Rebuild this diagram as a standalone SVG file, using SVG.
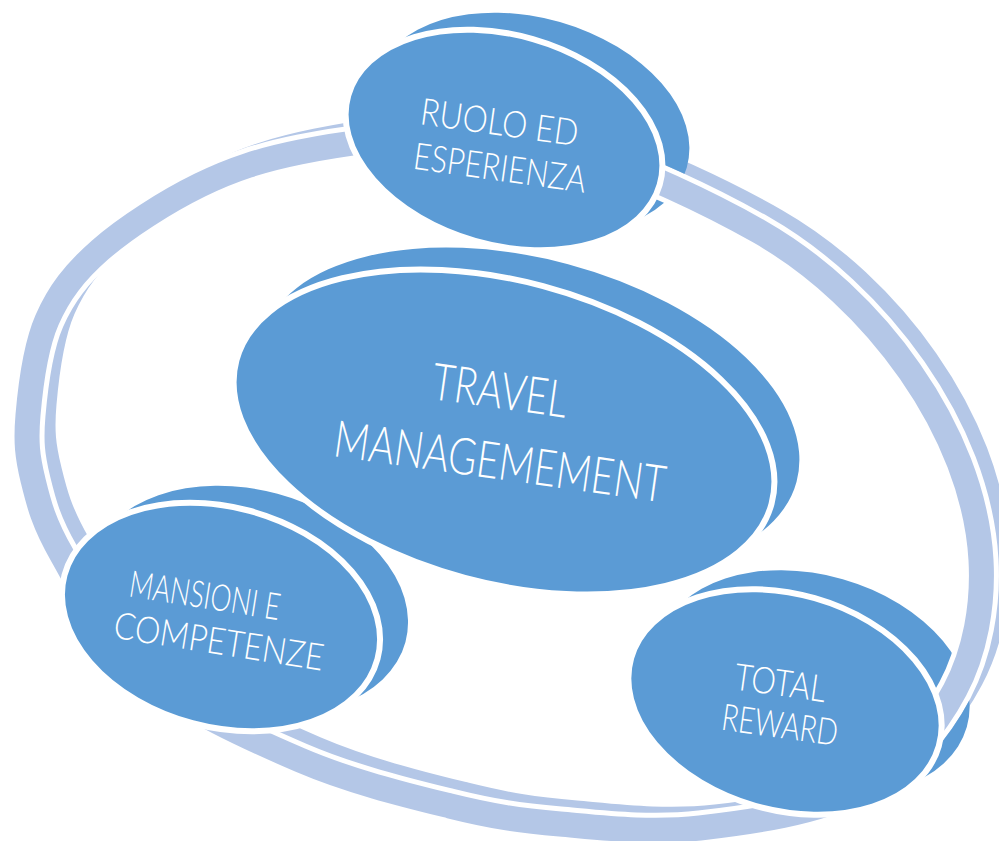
<svg xmlns="http://www.w3.org/2000/svg" xmlns:xlink="http://www.w3.org/1999/xlink" width="999" height="841" viewBox="0 0 999 841">
<style>
.ringband{fill:none;stroke:#B4C7E7;stroke-width:25}
.ringgap{fill:none;stroke:#FFFFFF;stroke-width:35}
.back{fill:#5B9BD5}
.front{fill:#5B9BD5;stroke:#FFFFFF;stroke-width:6}
.lbl{font-family:Lato,"Open Sans","Liberation Sans",sans-serif;font-weight:300;fill:#FFFFFF;text-anchor:middle}
.s{font-size:37px}
.b{font-size:51px}
</style>
<defs>
<path id="ringPath" d="M28,415 C30.3,388.3 35,347.5 47,320 C59,292.5 74.5,272.5 100,250 C125.5,227.5 166.7,201.3 200,185 C233.3,168.7 261.7,159.8 300,152 C338.3,144.2 383.3,138 430,138 C476.7,138 525,138 580,152 C635,167.7 710.8,204 760,232 C872.8,296.5 973.8,430.3 981,560 C983.5,605 975.2,651.7 955,690 C934.8,728.3 902.5,767 860,790 C817.5,813 750,822.3 700,828 C650,833.7 601.7,827.7 560,824 C518.3,820.3 493.3,816.7 450,806 C406.7,795.3 350.8,781.8 300,760 C249.2,738.2 184.7,709.2 145,675 C105.3,640.8 80.7,587.5 62,555 C43.3,522.5 38.7,503.3 33,480 C27.3,456.7 25.7,441.7 28,415 Z"/>
<mask id="cut" maskUnits="userSpaceOnUse" x="0" y="0" width="999" height="841">
<rect x="0" y="0" width="999" height="841" fill="#FFFFFF"/>
<use xlink:href="#ringPath" fill="none" stroke="#000000" stroke-width="35"/>
</mask>
</defs>
<rect x="0" y="0" width="999" height="841" fill="#FFFFFF"/>
<g id="connectors">
<use xlink:href="#ringPath" class="ringband" transform="translate(16,-11)"/>
<use xlink:href="#ringPath" class="ringgap"/>
<use xlink:href="#ringPath" class="ringband"/>
</g>
<g id="node-mansioni">
<g mask="url(#cut)"><ellipse class="back" cx="249" cy="600" rx="162" ry="110" transform="rotate(15 249 600)"/></g>
<ellipse class="front" cx="221" cy="617" rx="162" ry="110" transform="rotate(15 221 617)"/>
<text class="lbl s" x="205" y="608.3" transform="rotate(9 205 595)" textLength="152" lengthAdjust="spacingAndGlyphs">MANSIONI E</text>
<text class="lbl s" x="219" y="654.3" transform="rotate(9 219 641)" textLength="212" lengthAdjust="spacingAndGlyphs">COMPETENZE</text>
</g>
<g id="node-total">
<g mask="url(#cut)"><ellipse class="back" cx="813" cy="683" rx="160" ry="108" transform="rotate(16 813 683)"/></g>
<ellipse class="front" cx="785" cy="702" rx="160" ry="108" transform="rotate(16 785 702)"/>
<text class="lbl s" x="780.5" y="695.8" transform="rotate(8 780.5 682.5)" textLength="92" lengthAdjust="spacingAndGlyphs">TOTAL</text>
<text class="lbl s" x="780" y="737.8" transform="rotate(8 780 724.5)" textLength="117" lengthAdjust="spacingAndGlyphs">REWARD</text>
</g>
<g id="node-travel">
<g mask="url(#cut)"><ellipse class="back" cx="529" cy="410" rx="277" ry="151" transform="rotate(15 529 410)"/></g>
<ellipse class="front" cx="504" cy="432" rx="277" ry="151" transform="rotate(15 504 432)"/>
<text class="lbl b" x="500" y="408.4" transform="rotate(8 500 390)" textLength="136" lengthAdjust="spacingAndGlyphs">TRAVEL</text>
<text class="lbl b" x="500" y="479.4" transform="rotate(8 500 461)" textLength="334" lengthAdjust="spacingAndGlyphs">MANAGEMEMENT</text>
</g>
<g id="node-ruolo">
<g mask="url(#cut)"><ellipse class="back" cx="531" cy="123" rx="162" ry="105" transform="rotate(16 531 123)"/></g>
<ellipse class="front" cx="504" cy="140" rx="162" ry="105" transform="rotate(16 504 140)"/>
<text class="lbl s" x="499.5" y="135.3" transform="rotate(8 499.5 122)" textLength="159" lengthAdjust="spacingAndGlyphs">RUOLO ED</text>
<text class="lbl s" x="500" y="180.8" transform="rotate(8 500 167.5)" textLength="174" lengthAdjust="spacingAndGlyphs">ESPERIENZA</text>
</g>
</svg>
